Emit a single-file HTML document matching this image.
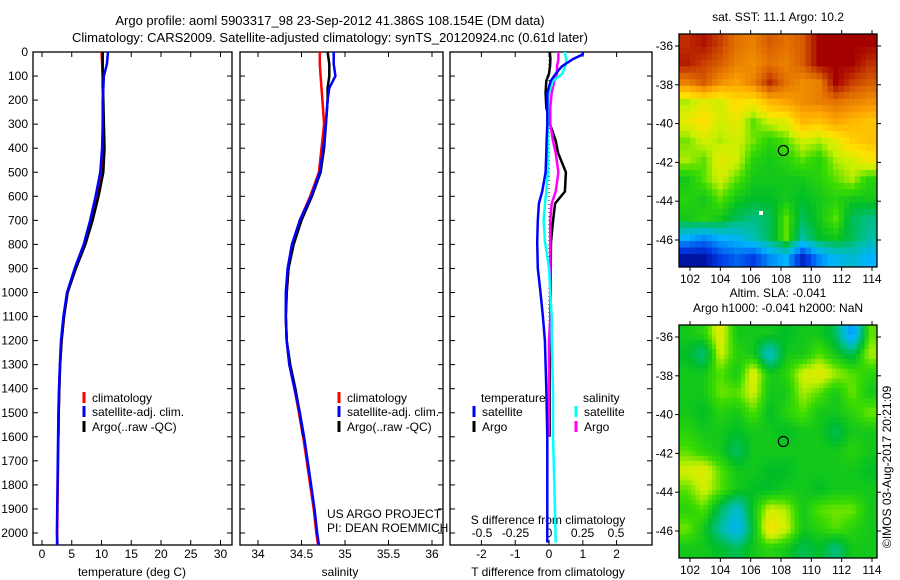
<!DOCTYPE html>
<html><head><meta charset="utf-8">
<style>
html,body{margin:0;padding:0;background:#fff;}
svg{display:block;font-family:"Liberation Sans",sans-serif;}
text{font-size:12px;fill:#000;}
</style></head>
<body>
<svg id="chart" width="900" height="580" viewBox="0 0 900 580" xmlns="http://www.w3.org/2000/svg">
<rect width="900" height="580" fill="#fff"/>
<text x="330" y="25" text-anchor="middle" style="font-size:13px">Argo profile: aoml 5903317_98 23-Sep-2012 41.386S 108.154E (DM data)</text>
<text x="330" y="42" text-anchor="middle" style="font-size:13px">Climatology: CARS2009. Satellite-adjusted climatology: synTS_20120924.nc (0.61d later)</text>
<g id="g"></g>
</svg>
<script>
// ---- profile data ----
const depth = [0,50,100,150,200,300,400,500,600,700,800,900,1000,1100,1200,1300,1400,1500,1600,1700,1800,1900,2000,2050];
const tempClim = [10.0,10.1,10.2,10.3,10.3,10.3,10.3,10.1,9.3,8.3,7.2,5.6,4.3,3.7,3.3,3.05,2.9,2.8,2.75,2.7,2.65,2.6,2.55,2.5];
const tempSat  = [11.1,10.9,10.4,10.3,10.2,10.2,10.1,9.8,9.0,8.1,7.0,5.5,4.2,3.6,3.2,3.0,2.85,2.75,2.7,2.65,2.6,2.55,2.5,2.6];
const tempArgo = [10.2,10.2,10.2,10.2,10.3,10.4,10.5,10.3,9.5,8.5,7.3,5.7,4.3,3.7,3.3,3.05,2.9,2.8,2.75];
const salClim = [34.71,34.71,34.72,34.73,34.74,34.76,34.73,34.7,34.6,34.48,34.4,34.35,34.33,34.32,34.33,34.36,34.42,34.47,34.52,34.56,34.6,34.64,34.67,34.69];
const salSat  = [34.87,34.87,34.89,34.82,34.8,34.78,34.75,34.71,34.61,34.48,34.39,34.34,34.32,34.32,34.33,34.36,34.42,34.48,34.53,34.57,34.61,34.65,34.68,34.7];
const salArgo = [34.8,34.82,34.82,34.8,34.8,34.78,34.76,34.72,34.62,34.5,34.41,34.35,34.33,34.32,34.33,34.37,34.43,34.48,34.52];
const dDepth = [0,10,30,60,90,120,170,230,300,370,420,500,580,630,700,790,900,1000,1100,1200,1400,1600,1800,2040];
const tDiffSat  = [1.0,1.0,0.7,0.38,0.2,0.05,-0.05,-0.05,-0.05,-0.07,-0.08,-0.1,-0.2,-0.3,-0.33,-0.35,-0.33,-0.25,-0.18,-0.12,-0.08,-0.05,-0.05,-0.05];
const tDiffArgo = [0.03,0.03,0.04,0.03,0.0,-0.08,-0.1,-0.08,0.03,0.2,0.27,0.5,0.47,0.18,0.12,0.06,0.05,0.05,0.04,0.03,0.02,0.02];
const sDiffSat  = [0.12,0.12,0.13,0.12,0.1,0.03,0.0,-0.01,-0.01,-0.01,-0.01,-0.01,-0.02,-0.03,-0.04,-0.03,0.0,0.01,0.02,0.02,0.03,0.03,0.04,0.05];
const sDiffArgo = [0.07,0.07,0.07,0.06,0.06,0.04,0.02,0.01,0.01,0.03,0.05,0.07,0.05,0.02,0.01,0.01,0.01,0.01,0.01,0.0,0.0,0.0];
const depthTicks = [0,100,200,300,400,500,600,700,800,900,1000,1100,1200,1300,1400,1500,1600,1700,1800,1900,2000];
const tempTicks = [0,5,10,15,20,25,30];
const salTicks = [34,34.5,35,35.5,36];
const tdTicks = [-2,-1,0,1,2];
const sdTicks = [-0.5,-0.25,0,0.25,0.5];
// ---- map data (colormap fraction, rows N->S, cols W->E) ----
const sstGrid = [
[0.9,0.93,0.88,0.82,0.8,0.85,0.82,0.85,0.95,0.95,0.95,0.95],
[0.92,0.88,0.85,0.8,0.78,0.82,0.8,0.85,0.95,0.95,0.95,0.9],
[0.8,0.85,0.78,0.75,0.8,0.9,0.82,0.78,0.8,0.95,0.88,0.85],
[0.58,0.62,0.6,0.66,0.64,0.72,0.75,0.78,0.8,0.82,0.8,0.78],
[0.62,0.66,0.6,0.62,0.55,0.6,0.62,0.72,0.7,0.75,0.72,0.7],
[0.56,0.6,0.58,0.6,0.56,0.52,0.55,0.6,0.58,0.62,0.68,0.7],
[0.58,0.55,0.62,0.6,0.52,0.5,0.52,0.55,0.52,0.58,0.6,0.64],
[0.5,0.55,0.6,0.55,0.5,0.5,0.5,0.5,0.52,0.55,0.58,0.52],
[0.52,0.5,0.55,0.5,0.48,0.48,0.5,0.48,0.5,0.52,0.5,0.5],
[0.5,0.52,0.5,0.45,0.42,0.45,0.55,0.45,0.5,0.55,0.45,0.42],
[0.3,0.25,0.3,0.32,0.38,0.45,0.55,0.4,0.48,0.5,0.45,0.4],
[0.05,0.05,0.15,0.2,0.15,0.25,0.3,0.1,0.25,0.32,0.35,0.3]];
const slaGrid = [
[.5,.52,.62,.5,.5,.5,.48,.5,.5,.45,.25,.55],
[.48,.42,.6,.52,.5,.35,.5,.5,.55,.5,.45,.58],
[.5,.5,.55,.5,.62,.5,.52,.6,.62,.58,.55,.52],
[.5,.5,.56,.55,.6,.5,.5,.58,.55,.5,.56,.5],
[.5,.48,.52,.5,.55,.48,.52,.55,.5,.5,.52,.56],
[.52,.5,.5,.48,.5,.5,.48,.5,.5,.45,.5,.5],
[.55,.52,.5,.44,.5,.5,.5,.5,.5,.5,.52,.5],
[.6,.62,.55,.5,.5,.48,.48,.5,.5,.5,.5,.48],
[.55,.6,.55,.5,.48,.48,.5,.5,.48,.5,.5,.5],
[.52,.55,.45,.35,.5,.6,.58,.5,.55,.56,.56,.5],
[.56,.5,.4,.3,.48,.65,.6,.5,.52,.55,.52,.5],
[.5,.5,.48,.45,.5,.52,.5,.45,.48,.42,.5,.5]];
const lonTicks = [102,104,106,108,110,112,114];
const latTicks = [-36,-38,-40,-42,-44,-46];
const argoLon = 108.154, argoLat = -41.386;

const NS='http://www.w3.org/2000/svg';
const G=document.getElementById('g');
function el(t,a,p){const e=document.createElementNS(NS,t);for(const k in a)e.setAttribute(k,a[k]);(p||G).appendChild(e);return e;}
const yD = d => 52 + d*0.2405;
const PT=52, PB=545;
function panel(x0,x1,name){
  const r=el('rect',{x:x0,y:PT,width:x1-x0,height:PB-PT,fill:'none',stroke:'#000','stroke-width':1.3});
  
  
  depthTicks.forEach(d=>{
    el('line',{x1:x0,x2:x0+5,y1:yD(d),y2:yD(d),stroke:'#000'});
    el('line',{x1:x1-5,x2:x1,y1:yD(d),y2:yD(d),stroke:'#000'});
  });
}
function xticks(sc,ticks,y,name){
  ticks.forEach(t=>{
    el('line',{x1:sc(t),x2:sc(t),y1:PT,y2:PT+5,stroke:'#000'});
    el('line',{x1:sc(t),x2:sc(t),y1:PB-5,y2:PB,stroke:'#000'});
    const tx=el('text',{x:sc(t),y:y,'text-anchor':'middle'});
    
    
    tx.textContent=t;
  });
}
function line(xs,ds,sc,col,name,w){
  const pts=xs.map((v,i)=>sc(v).toFixed(1)+','+yD(ds[i]).toFixed(1)).join(' ');
  const p=el('polyline',{points:pts,fill:'none',stroke:col,'stroke-width':w||2.5});
  
  
}
function txt(x,y,s,name,extra){
  const t=el('text',Object.assign({x:x,y:y},extra||{}));
  
  
  t.textContent=s;return t;
}
depthTicks.forEach(d=>{ txt(28,yD(d)+4,String(d),'depth-tick-label',{'text-anchor':'end'}); });
// panel 1 temperature
const sT=v=>42+v*5.95;
panel(33,232,'temperature-panel');
xticks(sT,tempTicks,558,'temperature-tick-label');
txt(132,576,'temperature (deg C)','temperature-axis-title',{'text-anchor':'middle'});
line(tempClim,depth,sT,'#f00','temp-climatology-line');
line(tempArgo,depth,sT,'#000','temp-argo-line');
line(tempSat,depth,sT,'#00f','temp-satellite-line');
function legend(x,y,col,label){
  el('line',{x1:x,x2:x,y1:y-10,y2:y+1,stroke:col,'stroke-width':3});
  txt(x+8,y,label,'legend-entry');
}
legend(84,402,'#f00','climatology');
legend(84,416,'#00f','satellite-adj. clim.');
legend(84,431,'#000','Argo(..raw -QC)');
// panel 2 salinity
const sS=v=>258+(v-34)*87;
panel(240,443,'salinity-panel');
xticks(sS,salTicks,558,'salinity-tick-label');
txt(340,576,'salinity','salinity-axis-title',{'text-anchor':'middle'});
line(salClim,depth,sS,'#f00','sal-climatology-line');
line(salArgo,depth,sS,'#000','sal-argo-line');
line(salSat,depth,sS,'#00f','sal-satellite-line');
legend(339,402,'#f00','climatology');
legend(339,416,'#00f','satellite-adj. clim.');
legend(339,431,'#000','Argo(..raw -QC)');
txt(327,518,'US ARGO PROJECT','project-credit');
txt(327,532,'PI: DEAN ROEMMICH','pi-credit');
// panel 3 differences
const sTD=v=>549+v*33.8;
const sSD=v=>549+v*134;
panel(450,652,'difference-panel');
xticks(sTD,tdTicks,558,'tdiff-tick-label');
sdTicks.forEach(t=>{txt(sSD(t),537,String(t),'sdiff-tick-label',{'text-anchor':'middle'});});
txt(548,524,'S difference from climatology','sdiff-axis-title',{'text-anchor':'middle'});
txt(548,576,'T difference from climatology','tdiff-axis-title',{'text-anchor':'middle'});
el('line',{x1:549,x2:549,y1:PT,y2:yD(1600),stroke:'#000','stroke-width':1,'stroke-dasharray':'1,3'});
line(tDiffArgo,dDepth.slice(0,tDiffArgo.length),sTD,'#000','tdiff-argo-line');
line(sDiffArgo,dDepth.slice(0,sDiffArgo.length),sSD,'#f0f','sdiff-argo-line');
line(sDiffSat,dDepth,sSD,'#0ff','sdiff-satellite-line');
line(tDiffSat,dDepth,sTD,'#00f','tdiff-satellite-line');
txt(481,402,'temperature','legend-temperature-header');
txt(583,402,'salinity','legend-salinity-header');
legend(474,416,'#00f','satellite');
legend(474,431,'#000','Argo');
legend(576,416,'#0ff','satellite');
legend(576,431,'#f0f','Argo');
// colormap
const cmStops=[[0,0,0,130],[0.15,0,60,230],[0.3,0,180,255],[0.4,0,190,160],[0.48,0,190,40],[0.54,60,220,0],[0.59,200,240,0],[0.65,255,225,0],[0.74,255,170,0],[0.84,220,100,0],[0.95,165,0,0],[1,150,0,0]];
function cmap(v){
  v=Math.max(0,Math.min(1,v));
  for(let i=1;i<cmStops.length;i++){
    const a=cmStops[i-1],b=cmStops[i];
    if(v<=b[0]){const f=(v-a[0])/(b[0]-a[0]);
      return 'rgb('+[1,2,3].map(k=>Math.round(a[k]+(b[k]-a[k])*f)).join(',')+')';}
  }
  return 'rgb(150,0,0)';
}
function sample(grid,u,v){
  const rows=grid.length, cols=grid[0].length;
  let x=u*cols-0.5, y=v*rows-0.5;
  x=Math.max(0,Math.min(cols-1,x)); y=Math.max(0,Math.min(rows-1,y));
  const x0=Math.floor(x),y0=Math.floor(y),x1=Math.min(cols-1,x0+1),y1=Math.min(rows-1,y0+1);
  const fx=x-x0,fy=y-y0;
  return grid[y0][x0]*(1-fx)*(1-fy)+grid[y0][x1]*fx*(1-fy)+grid[y1][x0]*(1-fx)*fy+grid[y1][x1]*fx*fy;
}
function map(y0,grid,name,title1,title2,sub){
  const x0=679,x1=877,y1=y0+233;
  const lonS=v=>690+(v-102)*(182/12);
  const latS=v=>(y0+12)+(-36-v)*(194/10);
  const rows=grid.length*sub, cols=grid[0].length*sub;
  const cw=(x1-x0)/cols, ch=(y1-y0)/rows;
  for(let i=0;i<rows;i++)for(let j=0;j<cols;j++){
    const v=sub>1?sample(grid,(j+0.5)/cols,(i+0.5)/rows):grid[i][j];
    const w=Math.min(cw+0.5,x1-(x0+j*cw)), h=Math.min(ch+0.5,y1-(y0+i*ch));
    const r=el('rect',{x:(x0+j*cw).toFixed(2),y:(y0+i*ch).toFixed(2),width:w.toFixed(2),height:h.toFixed(2),fill:cmap(v)});
    
    
  }
  const b=el('rect',{x:x0,y:y0,width:x1-x0,height:y1-y0,fill:'none',stroke:'#000','stroke-width':1.3});
  
  
  lonTicks.forEach(t=>{
    el('line',{x1:lonS(t),x2:lonS(t),y1:y0-4,y2:y0,stroke:'#000'});
    el('line',{x1:lonS(t),x2:lonS(t),y1:y1,y2:y1+4,stroke:'#000'});
    txt(lonS(t),y1+16,String(t),name+'-lon-label',{'text-anchor':'middle'});
  });
  latTicks.forEach(t=>{
    el('line',{x1:x0-4,x2:x0,y1:latS(t),y2:latS(t),stroke:'#000'});
    el('line',{x1:x1,x2:x1+4,y1:latS(t),y2:latS(t),stroke:'#000'});
    txt(x0-6,latS(t)+4,String(t),name+'-lat-label',{'text-anchor':'end'});
  });
  const c=el('circle',{cx:lonS(argoLon),cy:latS(argoLat),r:5,fill:'none',stroke:'#000','stroke-width':1.2});
  
  
  if(title2){txt(778,y0-28,title1,name+'-title',{'text-anchor':'middle'});txt(778,y0-13,title2,name+'-subtitle',{'text-anchor':'middle'});}
  else txt(778,y0-13,title1,name+'-title',{'text-anchor':'middle'});
}
map(34,sstGrid,'sst-map','sat. SST: 11.1 Argo: 10.2',null,3);
el('rect',{x:759,y:211,width:4,height:4,fill:'#fff'});
map(325,slaGrid,'sla-map','Altim. SLA: -0.041','Argo h1000: -0.041 h2000: NaN',4);
txt(0,0,'©IMOS 03-Aug-2017 20:21:09','timestamp',{transform:'translate(891,548) rotate(-90)'});
</script>
</body></html>
